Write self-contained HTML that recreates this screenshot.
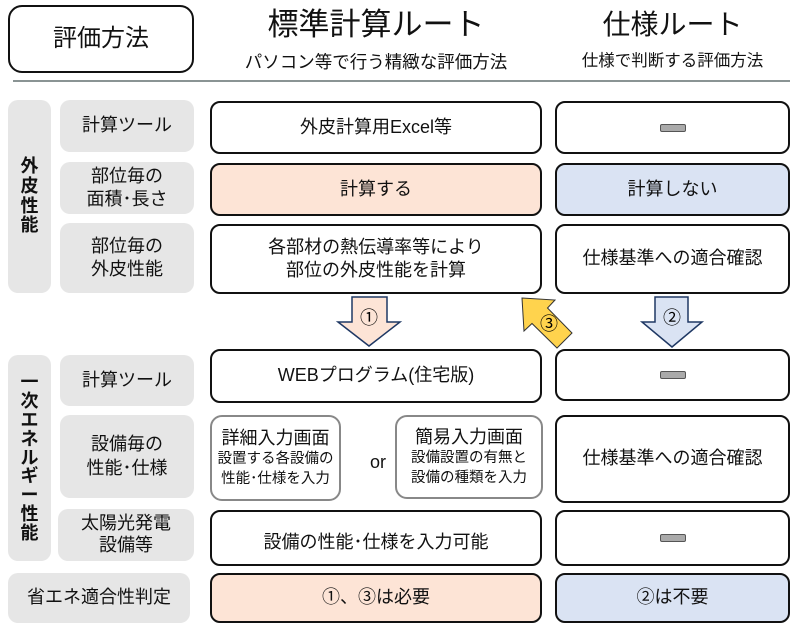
<!DOCTYPE html>
<html><head><meta charset="utf-8"><style>
body{margin:0;width:800px;height:630px;background:#fff;position:relative;font-family:"Liberation Sans","Noto Sans CJK JP",sans-serif;color:#111;overflow:hidden}
.a{position:absolute;box-sizing:border-box;display:flex;align-items:center;justify-content:center;text-align:center;line-height:1.3}
.b{border:2px solid #111;border-radius:10px;background:#fff}
.g{background:#e6e6e6;border-radius:10px}
.lb{font-size:18px}
.t{font-size:18px}
.dash{width:24px;height:6px;background:#aaa;border:1.5px solid #555;border-radius:2px}
.p{background:#fde4d6}
.u{background:#dae3f3}
.gr{border:2px solid #888;border-radius:12px;background:#fff;flex-direction:column}
</style></head><body>
<div class="a b" style="left:8px;top:5px;width:186px;height:68px;border-radius:14px;font-size:24px">評価方法</div>
<div class="a" style="left:210px;top:6px;width:332px;height:38px;font-size:31px">標準計算ルート</div>
<div class="a" style="left:205px;top:50px;width:342px;height:24px;font-size:17.5px">パソコン等で行う精緻な評価方法</div>
<div class="a" style="left:555px;top:6px;width:235px;height:38px;font-size:28px">仕様ルート</div>
<div class="a" style="left:555px;top:50px;width:235px;height:24px;font-size:16.5px">仕様で判断する評価方法</div>
<div style="position:absolute;left:13px;top:80px;width:777px;height:2px;background:#8a9494"></div>

<div class="a g" style="left:8px;top:100px;width:43px;height:193px;font-size:18px;font-weight:bold;line-height:1.1">外<br>皮<br>性<br>能</div>
<div class="a g lb" style="left:60px;top:100px;width:134px;height:52px">計算ツール</div>
<div class="a g lb" style="left:60px;top:162px;width:134px;height:52px">部位毎の<br>面積･長さ</div>
<div class="a g lb" style="left:60px;top:223px;width:134px;height:70px">部位毎の<br>外皮性能</div>

<div class="a b t" style="left:210px;top:101px;width:332px;height:53px">外皮計算用Excel等</div>
<div class="a b t p" style="left:210px;top:163px;width:332px;height:53px">計算する</div>
<div class="a b t" style="left:210px;top:224px;width:332px;height:70px">各部材の熱伝導率等により<br>部位の外皮性能を計算</div>
<div class="a b" style="left:555px;top:101px;width:235px;height:53px"><div class="dash"></div></div>
<div class="a b t u" style="left:555px;top:163px;width:235px;height:53px">計算しない</div>
<div class="a b t" style="left:555px;top:224px;width:235px;height:70px">仕様基準への適合確認</div>

<svg style="position:absolute;left:0;top:0" width="800" height="630">
<polygon points="352,297 387,297 387,322 400,322 369,346 338,322 352,322" fill="#fde4d6" stroke="#1f3864" stroke-width="1.5"/>
<text x="369" y="324" font-size="18" text-anchor="middle" font-family="Liberation Sans,Noto Sans CJK JP,sans-serif">①</text>
<polygon points="655,297 688,297 688,322 702,322 672,347 642,322 655,322" fill="#dae3f3" stroke="#1f3864" stroke-width="1.5"/>
<text x="672" y="324" font-size="18" text-anchor="middle" font-family="Liberation Sans,Noto Sans CJK JP,sans-serif">②</text>
<polygon points="522,298 555,300 547.5,308 572,333 557,348 532,323.5 524,331" fill="#ffd34d" stroke="#333" stroke-width="1"/>
<text x="549" y="330" font-size="18" text-anchor="middle" font-family="Liberation Sans,Noto Sans CJK JP,sans-serif">③</text>
</svg>

<div class="a g" style="left:8px;top:355px;width:43px;height:206px;font-size:18px;font-weight:bold;line-height:1.05">一<br>次<br>エ<br>ネ<br>ル<br>ギ<br>ー<br>性<br>能</div>
<div class="a g lb" style="left:60px;top:355px;width:134px;height:51px">計算ツール</div>
<div class="a g lb" style="left:60px;top:415px;width:134px;height:83px">設備毎の<br>性能･仕様</div>
<div class="a g lb" style="left:58px;top:509px;width:136px;height:52px;line-height:1.2">太陽光発電<br>設備等</div>
<div class="a g lb" style="left:8px;top:573px;width:182px;height:50px">省エネ適合性判定</div>

<div class="a b t" style="left:210px;top:349px;width:332px;height:54px">WEBプログラム(住宅版)</div>
<div class="a b" style="left:555px;top:349px;width:235px;height:52px"><div class="dash"></div></div>
<div class="a gr" style="left:210px;top:415px;width:131px;height:86px"><div style="font-size:18px">詳細入力画面</div><div style="font-size:14.5px;line-height:1.35">設置する各設備の<br>性能･仕様を入力</div></div>
<div class="a" style="left:365px;top:450px;width:26px;height:26px;font-size:18px">or</div>
<div class="a gr" style="left:395px;top:415px;width:148px;height:84px"><div style="font-size:18px">簡易入力画面</div><div style="font-size:14.5px;line-height:1.35">設備設置の有無と<br>設備の種類を入力</div></div>
<div class="a b t" style="left:555px;top:415px;width:235px;height:88px">仕様基準への適合確認</div>
<div class="a b t" style="left:210px;top:510px;width:332px;height:56px;padding-top:10px">設備の性能･仕様を入力可能</div>
<div class="a b" style="left:555px;top:510px;width:235px;height:56px"><div class="dash"></div></div>
<div class="a b t p" style="left:210px;top:573px;width:332px;height:50px">①、③は必要</div>
<div class="a b t u" style="left:555px;top:573px;width:235px;height:50px">②は不要</div>
</body></html>
